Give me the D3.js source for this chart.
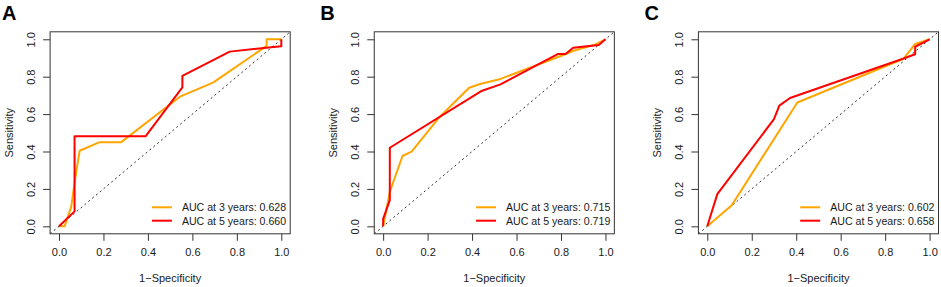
<!DOCTYPE html>
<html>
<head>
<meta charset="utf-8">
<script src="https://cdn.jsdelivr.net/npm/d3@7"></script>
<style>
  body { margin: 0; background: #fff; }
  svg { display: block; font-family: "Liberation Sans", Arial, sans-serif; }
</style>
</head>
<body>
<svg id="chart" width="941" height="287"></svg>
<script>
// panel letters and legend labels
var panelLetters = ["A", "B", "C"];
var legendA = ["AUC at 3 years: 0.628", "AUC at 5 years: 0.660"];
var legendB = ["AUC at 3 years: 0.715", "AUC at 5 years: 0.719"];
var legendC = ["AUC at 3 years: 0.602", "AUC at 5 years: 0.658"];
var tickValues = [0, 0.2, 0.4, 0.6, 0.8, 1.0];
var tickLabels = ["0.0", "0.2", "0.4", "0.6", "0.8", "1.0"];

// ROC curves (1-specificity, sensitivity)
var fprA3 = [0, 0.025, 0.055, 0.072, 0.093, 0.183, 0.28, 0.544, 0.693, 0.934, 0.934, 1];
var tprA3 = [0, 0, 0.104, 0.25, 0.404, 0.45, 0.45, 0.693, 0.768, 0.965, 1, 1];
var fprA5 = [0, 0.07, 0.07, 0.39, 0.555, 0.555, 0.768, 1, 1];
var tprA5 = [0, 0.08, 0.482, 0.482, 0.743, 0.804, 0.934, 0.963, 1];

var fprB3 = [0, 0.01, 0.03, 0.087, 0.128, 0.188, 0.255, 0.387, 0.436, 0.528, 0.633, 0.81, 0.86, 0.95, 1];
var tprB3 = [0, 0.06, 0.185, 0.376, 0.399, 0.488, 0.586, 0.741, 0.761, 0.788, 0.836, 0.916, 0.94, 0.97, 1];
var fprB5 = [0, 0, 0.03, 0.03, 0.445, 0.528, 0.785, 0.82, 0.855, 0.97, 1];
var tprB5 = [0, 0.04, 0.14, 0.42, 0.725, 0.759, 0.921, 0.921, 0.955, 0.97, 1];

var fprC3 = [0, 0.11, 0.405, 0.883, 0.935, 1];
var tprC3 = [0, 0.113, 0.662, 0.896, 0.975, 1];
var fprC5 = [0, 0.045, 0.3, 0.324, 0.372, 0.88, 0.935, 0.935, 1];
var tprC5 = [0, 0.172, 0.573, 0.645, 0.686, 0.896, 0.92, 0.96, 1];

var colors = ["#FFA500", "#FF0000"];

var panels = [
    {letter: panelLetters[0], legend: legendA, curves: [[fprA3, tprA3], [fprA5, tprA5]]},
    {letter: panelLetters[1], legend: legendB, curves: [[fprB3, tprB3], [fprB5, tprB5]]},
    {letter: panelLetters[2], legend: legendC, curves: [[fprC3, tprC3], [fprC5, tprC5]]}
];

var svg = d3.select("#chart");
var panelStep = 324.15;
var boxLeft0 = 50.1;
var boxW = 240.1;
var boxTop = 31.8, boxBottom = 233.8;
var textColor = "#1a1a1a";
var fontSize = "11px";

panels.forEach(function(p, i) {
    var left = boxLeft0 + i * panelStep;
    var right = left + boxW;

    // R style: 4% padding round the data range
    var x = d3.scaleLinear().domain([-0.04, 1.04]).range([left, right]);
    var y = d3.scaleLinear().domain([-0.04, 1.04]).range([boxBottom, boxTop]);

    var g = svg.append("g");

    // diagonal reference line, clipped to the box
    var clipId = "clip-" + i;
    svg.append("clipPath").attr("id", clipId)
        .append("rect")
        .attr("x", left).attr("y", boxTop)
        .attr("width", right - left).attr("height", boxBottom - boxTop);

    g.append("line")
        .attr("clip-path", "url(#" + clipId + ")")
        .attr("x1", x(-0.04)).attr("y1", y(-0.04))
        .attr("x2", x(1.04)).attr("y2", y(1.04))
        .attr("stroke", "#333")
        .attr("stroke-width", 1)
        .attr("stroke-dasharray", "2,3");

    var line = d3.line()
        .x(function(d) { return x(d[0]); })
        .y(function(d) { return y(d[1]); });

    p.curves.forEach(function(c, k) {
        var pts = c[0].map(function(v, j) { return [v, c[1][j]]; });
        g.append("path")
            .datum(pts)
            .attr("d", line)
            .attr("fill", "none")
            .attr("stroke", colors[k])
            .attr("stroke-width", 2)
            .attr("stroke-linejoin", "round");
    });

    // box
    g.append("rect")
        .attr("x", left).attr("y", boxTop)
        .attr("width", right - left).attr("height", boxBottom - boxTop)
        .attr("fill", "none")
        .attr("stroke", "#333")
        .attr("stroke-width", 1);

    // x axis
    var xAxis = d3.axisBottom(x)
        .tickValues(tickValues)
        .tickFormat(function(d, j) { return tickLabels[j]; })
        .tickSize(7)
        .tickPadding(7);
    var gx = g.append("g")
        .attr("transform", "translate(0," + boxBottom + ")")
        .call(xAxis);
    gx.select(".domain").remove();
    gx.selectAll("line").attr("stroke", "#333");
    gx.selectAll("text")
        .attr("fill", textColor)
        .style("font-size", fontSize)
        .style("font-family", "Liberation Sans, Arial, sans-serif");

    // y axis, labels parallel to the axis
    var yAxis = d3.axisLeft(y)
        .tickValues(tickValues)
        .tickFormat(function(d, j) { return tickLabels[j]; })
        .tickSize(7);
    var gy = g.append("g")
        .attr("transform", "translate(" + left + ",0)")
        .call(yAxis);
    gy.select(".domain").remove();
    gy.selectAll("line").attr("stroke", "#333");
    gy.selectAll("text")
        .attr("x", null).attr("dy", null)
        .attr("text-anchor", "middle")
        .attr("fill", textColor)
        .attr("transform", "translate(-15,0) rotate(-90)")
        .style("font-size", fontSize)
        .style("font-family", "Liberation Sans, Arial, sans-serif");

    // axis titles
    g.append("text")
        .attr("x", (x(0) + x(1)) / 2)
        .attr("y", 282)
        .attr("text-anchor", "middle")
        .attr("fill", textColor)
        .style("font-size", fontSize)
        .text("1\u2212Specificity");

    g.append("text")
        .attr("transform", "translate(" + (left - 37) + "," + ((y(0) + y(1)) / 2) + ") rotate(-90)")
        .attr("text-anchor", "middle")
        .attr("fill", textColor)
        .style("font-size", fontSize)
        .text("Sensitivity");

    // panel letter
    g.append("text")
        .attr("x", left - (i === 0 ? 48 : 54))
        .attr("y", 20)
        .attr("fill", "#000")
        .style("font-size", "20px")
        .style("font-weight", "bold")
        .text(p.letter);

    // legend, bottom right, no frame
    var textX = right - 108.3;
    p.legend.forEach(function(label, k) {
        var ly = 207.3 + k * 13.4;
        g.append("line")
            .attr("x1", textX - 30).attr("x2", textX - 10)
            .attr("y1", ly).attr("y2", ly)
            .attr("stroke", colors[k])
            .attr("stroke-width", 2);
        g.append("text")
            .attr("x", textX)
            .attr("y", ly + 4)
            .attr("fill", textColor)
            .style("font-size", "10.6px")
            .text(label);
    });
});
</script>
</body>
</html>
